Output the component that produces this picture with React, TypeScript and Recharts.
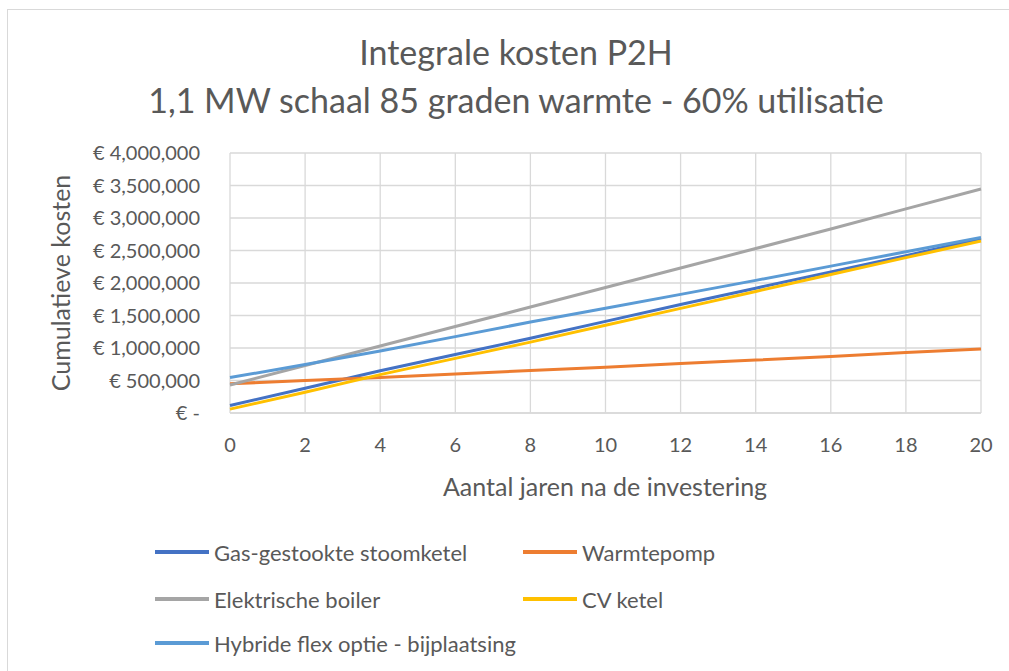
import { LineChart, Line, XAxis, YAxis, CartesianGrid } from 'recharts'

const years = [0, 2, 4, 6, 8, 10, 12, 14, 16, 18, 20]
const gasStoomketel = [115000, 380000, 650000, 900000, 1150000, 1410000, 1670000, 1920000, 2170000, 2420000, 2680000]
const warmtepomp = [450000, 500000, 545000, 600000, 655000, 705000, 760000, 815000, 870000, 930000, 985000]
const elektrischeBoiler = [430000, 730000, 1030000, 1330000, 1630000, 1930000, 2230000, 2530000, 2830000, 3140000, 3445000]
const cvKetel = [60000, 320000, 590000, 840000, 1090000, 1350000, 1610000, 1870000, 2130000, 2390000, 2645000]
const hybrideFlex = [545000, 745000, 955000, 1175000, 1400000, 1610000, 1825000, 2040000, 2260000, 2480000, 2700000]
const yTicks = [0, 500000, 1000000, 1500000, 2000000, 2500000, 3000000, 3500000, 4000000]

const series = [
  { key: 'gas', name: 'Gas-gestookte stoomketel', color: '#4472C4', values: gasStoomketel },
  { key: 'wp', name: 'Warmtepomp', color: '#ED7D31', values: warmtepomp },
  { key: 'eb', name: 'Elektrische boiler', color: '#A5A5A5', values: elektrischeBoiler },
  { key: 'cv', name: 'CV ketel', color: '#FFC000', values: cvKetel },
  { key: 'hyb', name: 'Hybride flex optie - bijplaatsing', color: '#5B9BD5', values: hybrideFlex },
]

const data = years.map((year, i) => {
  const row: Record<string, number> = { year }
  series.forEach((s) => {
    row[s.key] = s.values[i]
  })
  return row
})

const font = 'Lato, "Open Sans", sans-serif'
const textColor = '#595959'

function formatEuro(v: number): string {
  if (v === 0) return '€ -'
  return '€ ' + v.toLocaleString('en-US')
}

export default function App() {
  return (
    <div
      style={{
        position: 'absolute',
        left: 0,
        top: 0,
        width: 1009,
        height: 671,
        background: '#fff',
        fontFamily: font,
        color: textColor,
      }}
    >
      <div
        style={{
          position: 'absolute',
          left: 7,
          top: 9,
          width: 1010,
          height: 670,
          border: '1px solid #d9d9d9',
        }}
      />
      <div
        style={{
          position: 'absolute',
          left: 16,
          width: 1000,
          top: 28,
          textAlign: 'center',
          fontSize: 34,
          lineHeight: '48px',
          whiteSpace: 'nowrap',
        }}
      >
        Integrale kosten P2H
        <br />
        1,1 MW schaal 85 graden warmte - 60% utilisatie
      </div>
      <div
        style={{
          position: 'absolute',
          left: 60,
          top: 283,
          transform: 'translate(-50%, -50%) rotate(-90deg)',
          fontSize: 25,
          whiteSpace: 'nowrap',
        }}
      >
        Cumulatieve kosten
      </div>
      <div
        style={{
          position: 'absolute',
          left: 605,
          top: 486,
          transform: 'translate(-50%, -50%)',
          fontSize: 25,
          whiteSpace: 'nowrap',
        }}
      >
        Aantal jaren na de investering
      </div>
      <div style={{ position: 'absolute', left: 0, top: 0 }}>
        <LineChart
          width={1009}
          height={671}
          data={data}
          margin={{ top: 153, right: 28, left: 110, bottom: 228 }}
        >
          <CartesianGrid stroke="#d9d9d9" strokeWidth={1.3} vertical={true} horizontal={true} />
          <XAxis
            dataKey="year"
            type="number"
            domain={[0, 20]}
            ticks={years}
            height={30}
            tickSize={0}
            tickMargin={25}
            axisLine={{ stroke: '#d9d9d9', strokeWidth: 1.3 }}
            tickLine={false}
            tick={{ fontSize: 20, fill: textColor, fontFamily: font }}
          />
          <YAxis
            type="number"
            domain={[0, 4000000]}
            ticks={yTicks}
            width={120}
            tickSize={0}
            tickMargin={30}
            axisLine={false}
            tickLine={false}
            tickFormatter={formatEuro}
            tick={{ fontSize: 20, fill: textColor, fontFamily: font }}
          />
          {series.map((s) => (
            <Line
              key={s.key}
              dataKey={s.key}
              name={s.name}
              type="linear"
              stroke={s.color}
              strokeWidth={3}
              dot={false}
              activeDot={false}
              isAnimationActive={false}
            />
          ))}
        </LineChart>
      </div>
      {series.map((s, i) => {
        const col = i % 2
        const row = Math.floor(i / 2)
        const rowY = [552, 599, 643][row]
        const x = col === 0 ? 155 : 523
        return (
          <div
            key={s.key}
            style={{
              position: 'absolute',
              left: x,
              top: rowY - 16,
              height: 32,
              display: 'flex',
              alignItems: 'center',
              fontSize: 22,
              whiteSpace: 'nowrap',
            }}
          >
            <span
              style={{
                display: 'inline-block',
                width: 54,
                height: 4,
                background: s.color,
                marginRight: 5,
              }}
            />
            {s.name}
          </div>
        )
      })}
    </div>
  )
}
